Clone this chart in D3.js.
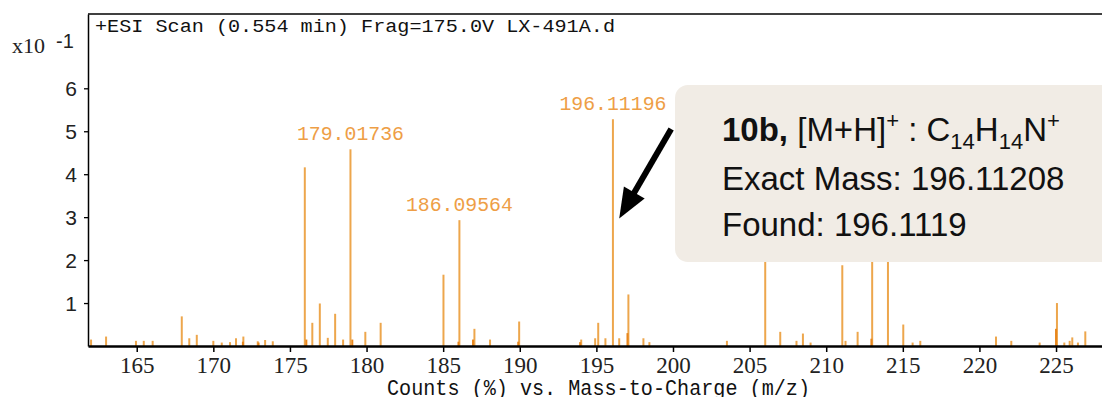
<!DOCTYPE html>
<html>
<head>
<meta charset="utf-8">
<script src="https://cdn.jsdelivr.net/npm/d3@7"></script>
<style>
  body { margin: 0; background: #fff; }
</style>
</head>
<body>
<div id="chart"></div>
<script>
// spectrum sticks (m/z, counts x10^-1)
const peakMz = [162.02, 163.0, 164.95, 165.46, 166.04, 167.94, 168.43, 168.92, 170.0, 170.55,
  171.09, 171.48, 171.96, 172.9, 173.38, 173.88, 175.97, 176.46, 176.95, 177.47,
  177.95, 178.47, 178.95, 179.92, 180.92, 185.02, 186.06, 187.04, 188.06, 189.96,
  194.01, 194.92, 195.12, 195.59, 196.08, 196.49, 197.09, 198.07, 198.46, 203.52,
  206.02, 207.0, 208.06, 208.48, 208.98, 211.05, 211.26, 212.05, 213.0, 214.03,
  215.03, 215.64, 216.14, 221.08, 222.08, 223.93, 225.06, 225.54, 225.89, 226.06,
  226.43, 226.91];
const peakCounts = [0.15, 0.22, 0.12, 0.12, 0.12, 0.69, 0.18, 0.26, 0.12, 0.08,
  0.09, 0.18, 0.22, 0.11, 0.14, 0.11, 4.16, 0.54, 0.99, 0.19,
  0.75, 0.15, 4.58, 0.33, 0.54, 1.66, 2.93, 0.40, 0.15, 0.57,
  0.15, 0.18, 0.54, 0.18, 5.28, 0.18, 1.20, 0.18, 0.09, 0.12,
  3.40, 0.33, 0.12, 0.29, 0.08, 1.88, 0.12, 0.33, 3.00, 2.60,
  0.50, 0.08, 0.12, 0.22, 0.12, 0.08, 1.00, 0.08, 0.12, 0.20,
  0.08, 0.34];

// short overlapping sticks drawn in a deeper orange
const overlapMz = [171.93, 172.95, 176.07, 179.07, 186.0, 186.95, 189.9, 193.94, 197.03, 212.95, 225.0];
const overlapCounts = [0.10, 0.08, 0.15, 0.15, 0.10, 0.15, 0.10, 0.09, 0.30, 0.17, 0.40];

const labelMz = [178.95, 186.06, 196.08];
const labelText = ['179.01736', '186.09564', '196.11196'];

const xTicks = [165, 170, 175, 180, 185, 190, 195, 200, 205, 210, 215, 220, 225];
const yTicks = [1, 2, 3, 4, 5, 6];

const width = 1102, height = 397;
const margin = { top: 14, left: 88, bottom: 51 };

const svg = d3.select('#chart')
  .append('svg')
    .attr('width', width)
    .attr('height', height);

const x = d3.scaleLinear()
  .domain([161.82, 228.0])
  .range([margin.left, width]);

const y = d3.scaleLinear()
  .domain([0, 7.73])
  .range([height - margin.bottom, margin.top]);

const mono = '"Liberation Mono", monospace';
const serif = '"Liberation Serif", serif';
const sans = '"Liberation Sans", Arial, sans-serif';

// sticks
svg.append('g')
  .selectAll('line')
  .data(d3.zip(peakMz, peakCounts))
  .join('line')
    .attr('x1', d => x(d[0]))
    .attr('x2', d => x(d[0]))
    .attr('y1', y(0))
    .attr('y2', d => y(d[1]))
    .attr('stroke', '#eda64c')
    .attr('stroke-width', 2);

svg.append('g')
  .selectAll('line')
  .data(d3.zip(overlapMz, overlapCounts))
  .join('line')
    .attr('x1', d => x(d[0]))
    .attr('x2', d => x(d[0]))
    .attr('y1', y(0))
    .attr('y2', d => y(d[1]))
    .attr('stroke', '#e8861c')
    .attr('stroke-width', 2);

// peak labels
svg.append('g')
  .selectAll('text')
  .data(labelMz)
  .join('text')
    .attr('x', d => x(d))
    .attr('y', d => y(peakCounts[peakMz.indexOf(d)]) - 9)
    .attr('text-anchor', 'middle')
    .attr('font-family', mono)
    .attr('font-size', 21)
    .attr('textLength', 107)
    .attr('lengthAdjust', 'spacingAndGlyphs')
    .attr('fill', '#ee9e46')
    .text((d, i) => labelText[i]);

// axes
const xAxis = svg.append('g')
  .attr('transform', `translate(0,${y(0)})`)
  .call(d3.axisBottom(x).tickValues(xTicks).tickSize(6).tickSizeOuter(0).tickFormat(d3.format('d')));
xAxis.select('.domain').attr('stroke-width', 2.6);
xAxis.selectAll('.tick line').attr('stroke-width', 1.5);
xAxis.selectAll('.tick text')
  .attr('y', 27)
  .attr('dy', 0)
  .attr('font-family', serif)
  .attr('font-size', 23)
  .attr('fill', '#222');

const yAxis = svg.append('g')
  .attr('transform', `translate(${margin.left},0)`)
  .call(d3.axisLeft(y).tickValues(yTicks).tickSize(4).tickSizeOuter(0));
yAxis.select('.domain').attr('stroke-width', 1.5);
yAxis.selectAll('.tick line').attr('stroke-width', 1.3);
yAxis.selectAll('.tick text')
  .attr('x', -11)
  .attr('dy', '0.36em')
  .attr('font-family', sans)
  .attr('font-size', 21)
  .attr('fill', '#222');

svg.append('line')
  .attr('x1', margin.left).attr('x2', width)
  .attr('y1', margin.top).attr('y2', margin.top)
  .attr('stroke', '#000').attr('stroke-width', 1.5);

// titles
svg.append('text')
  .attr('x', 95).attr('y', 32)
  .attr('font-family', mono)
  .attr('font-size', 18)
  .attr('textLength', 520)
  .attr('lengthAdjust', 'spacingAndGlyphs')
  .attr('fill', '#111')
  .text('+ESI Scan (0.554 min) Frag=175.0V LX-491A.d');

svg.append('text')
  .attr('x', 12).attr('y', 53)
  .attr('font-family', serif)
  .attr('font-size', 22)
  .attr('fill', '#222')
  .text('x10');
svg.append('text')
  .attr('x', 56).attr('y', 48)
  .attr('font-family', sans)
  .attr('font-size', 20)
  .attr('fill', '#222')
  .text('-1');

svg.append('text')
  .attr('x', 387).attr('y', 395)
  .attr('font-family', mono)
  .attr('font-size', 22)
  .attr('textLength', 423)
  .attr('lengthAdjust', 'spacingAndGlyphs')
  .attr('fill', '#111')
  .text('Counts (%) vs. Mass-to-Charge (m/z)');

// arrow pointing at the [M+H]+ peak
const tail = [x(199.88), y(5.05)];
const tip = [x(196.49), y(2.97)];
const dx = tip[0] - tail[0], dy = tip[1] - tail[1];
const len = Math.hypot(dx, dy);
const ux = dx / len, uy = dy / len;
const headLen = 30, headW = 12;
const base = [tip[0] - ux * headLen, tip[1] - uy * headLen];
svg.append('line')
  .attr('x1', tail[0]).attr('y1', tail[1])
  .attr('x2', base[0] + ux * 2).attr('y2', base[1] + uy * 2)
  .attr('stroke', '#000').attr('stroke-width', 6);
svg.append('polygon')
  .attr('points', [
    tip,
    [base[0] - uy * headW, base[1] + ux * headW],
    [base[0] + uy * headW, base[1] - ux * headW]
  ].map(p => p.join(',')).join(' '))
  .attr('fill', '#000');

// note box
const note = svg.append('g');
note.append('rect')
  .attr('x', 675).attr('y', 85)
  .attr('width', 470).attr('height', 177)
  .attr('rx', 13)
  .attr('fill', '#f1ece5');

const line1 = note.append('text')
  .attr('x', 722).attr('y', 141)
  .attr('font-family', sans)
  .attr('font-size', 33)
  .attr('fill', '#111');
line1.append('tspan').attr('font-weight', 'bold').text('10b,');
line1.append('tspan').text(' [M+H]');
line1.append('tspan').attr('font-size', 22).attr('dy', -13).text('+');
line1.append('tspan').attr('dy', 13).text(' : C');
line1.append('tspan').attr('font-size', 22).attr('dy', 8).text('14');
line1.append('tspan').attr('dy', -8).text('H');
line1.append('tspan').attr('font-size', 22).attr('dy', 8).text('14');
line1.append('tspan').attr('dy', -8).text('N');
line1.append('tspan').attr('font-size', 22).attr('dy', -13).text('+');

note.append('text')
  .attr('x', 722).attr('y', 190)
  .attr('font-family', sans)
  .attr('font-size', 33)
  .attr('fill', '#111')
  .text('Exact Mass: 196.11208');
note.append('text')
  .attr('x', 722).attr('y', 236)
  .attr('font-family', sans)
  .attr('font-size', 33)
  .attr('fill', '#111')
  .text('Found: 196.1119');
</script>
</body>
</html>
